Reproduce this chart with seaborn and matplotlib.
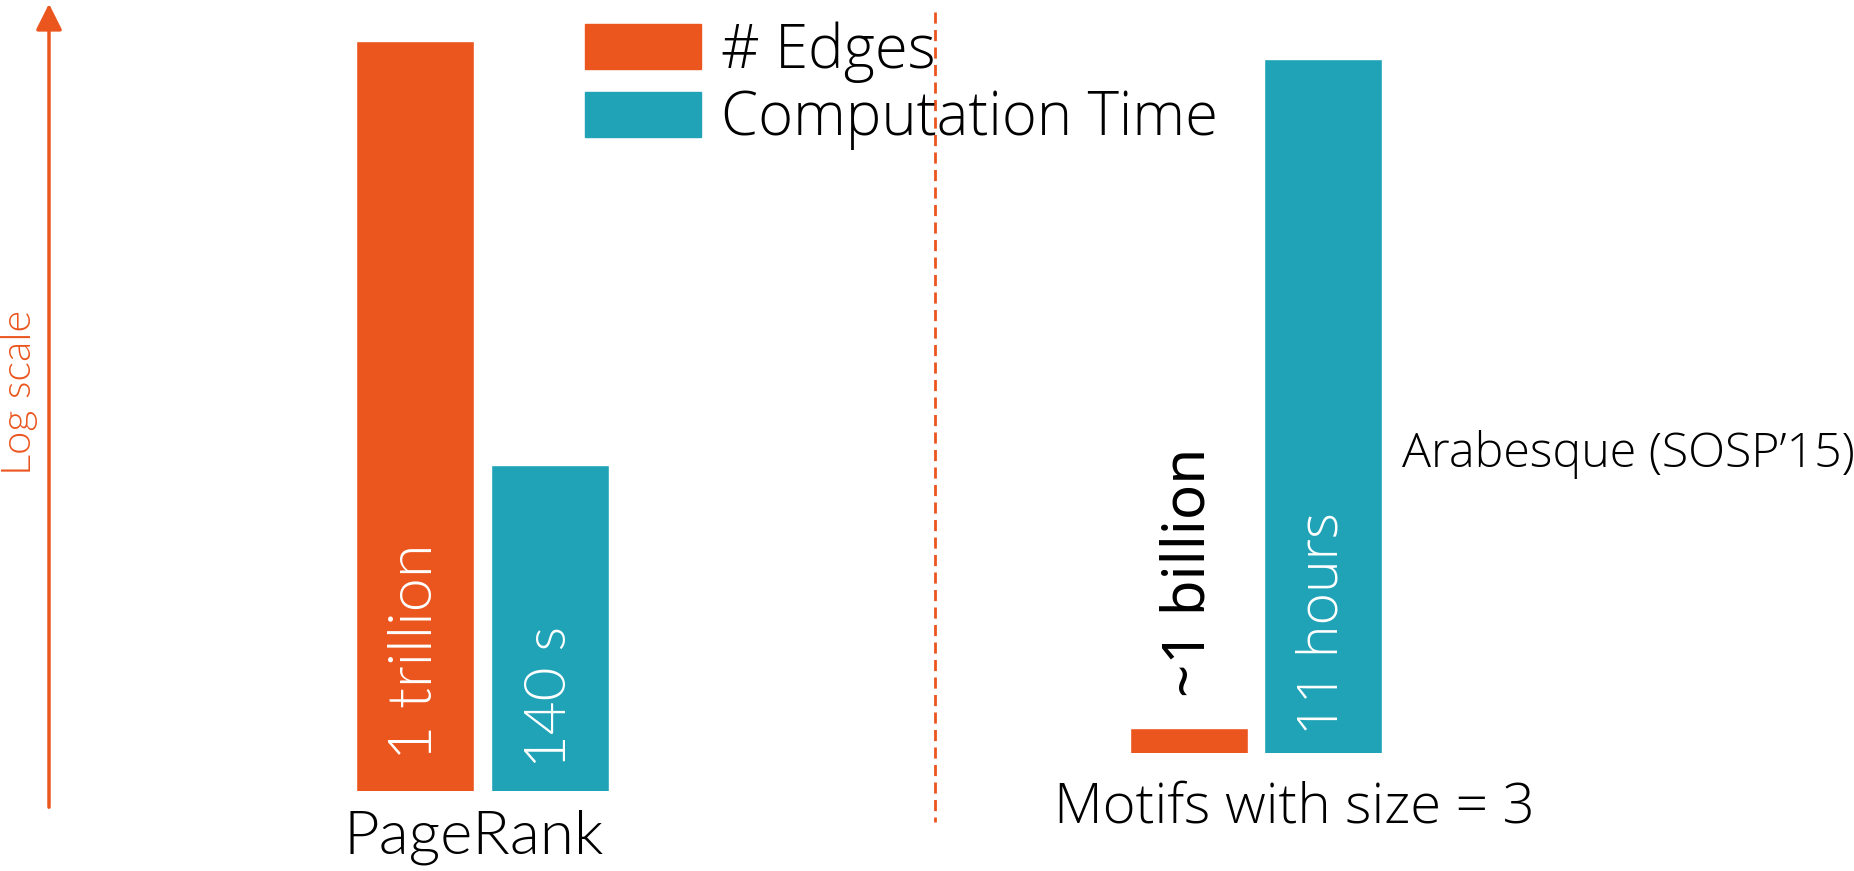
import matplotlib
matplotlib.use("Agg")
import matplotlib.pyplot as plt
from matplotlib.patches import Patch, FancyArrowPatch
import seaborn as sns

# --- data -------------------------------------------------------------
groups = ["PageRank", "Motifs with size = 3"]
metrics = ["# Edges", "Computation Time"]
edges = [1e12, 1e9]                 # number of edges per workload
seconds = [140, 11 * 3600]          # computation time in seconds
edge_labels = ["1 trillion", "~1 billion"]
time_labels = ["140 s", "11 hours"]
note = "Arabesque (SOSP\u201915)"
axis_note = "Log scale"

ORANGE = "#EB551E"
TEAL = "#20A3B7"

sns.set_theme(style="white")
plt.rcParams["font.family"] = ["Lato", "DejaVu Sans"]
plt.rcParams["text.color"] = "black"

W, H = 1854, 871
fig = plt.figure(figsize=(W / 100, H / 100), dpi=100)

# pixels per decade for each log axis, and axis floors (log10)
PX_DEC_EDGES, FLOOR_EDGES = 241.7, 8.8966
PX_DEC_TIME, FLOOR_TIME = 150.1, -0.026

# axes frames in pixels: (left, right, baseline)
frames = [(347.5, 617.5, 791), (1122, 1390, 753)]

thin = dict(family=["Lato"], weight=300)
cond = dict(family=["Open Sans"], weight=300)


def edge_y(px_above_base):
    return 10 ** (FLOOR_EDGES + px_above_base / PX_DEC_EDGES)


def time_y(px_above_base):
    return 10 ** (FLOOR_TIME + px_above_base / PX_DEC_TIME)


for i, (x0, x1, base) in enumerate(frames):
    ax = fig.add_axes([x0 / W, 1 - base / H, (x1 - x0) / W, base / H])
    ax.set_yscale("log")
    sns.barplot(x=[metrics[0]], y=[edges[i]], order=metrics, color=ORANGE,
                width=0.875, saturation=1, ax=ax)
    axt = ax.twinx()
    axt.set_yscale("log")
    sns.barplot(x=[metrics[1]], y=[seconds[i]], order=metrics, color=TEAL,
                width=0.875, saturation=1, ax=axt)
    ax.set_ylim(edge_y(0), edge_y(base))
    axt.set_ylim(time_y(0), time_y(base))
    for a in (ax, axt):
        a.set_xlim(-0.5, 1.5)
        a.set_axis_off()
        a.patch.set_alpha(0)

    # value labels and group names
    if i == 0:
        ax.text(0, edge_y(base - 760), edge_labels[i], rotation=90,
                ha="center", va="bottom", color="white", fontsize=44, **thin)
        axt.text(1, time_y(base - 768), time_labels[i], rotation=90,
                 ha="center", va="bottom", color="white", fontsize=42, **thin)
        fig.text(474 / W, 1 - 853 / H, groups[i], ha="center",
                 va="baseline", fontsize=44.5, color="black", **thin)
    else:
        ax.text(0, edges[i] * 10 ** (31 / PX_DEC_EDGES), edge_labels[i],
                rotation=90, ha="center", va="bottom", color="black",
                fontsize=42, family="Noto Sans")
        axt.text(1, time_y(base - 735), time_labels[i], rotation=90,
                 ha="center", va="bottom", color="white", fontsize=40, **cond)
        fig.text(1294 / W, 1 - 822 / H, groups[i], ha="center",
                 va="baseline", fontsize=40.6, color="black", **cond)

# annotation next to the tall bar
fig.text(1402 / W, 1 - 467 / H, note, ha="left", va="baseline",
         fontsize=34.8, color="black", **cond)

# separator between the two workloads
fig.add_artist(plt.Line2D([935 / W, 935 / W], [1 - 12 / H, 1 - 822 / H],
                          color=ORANGE, lw=2, ls=(0, (4, 2.3))))

# log-scale arrow on the left
fig.add_artist(FancyArrowPatch(
    (49 / W, 1 - 810 / H), (49 / W, 1 - 1 / H), transform=fig.transFigure,
    arrowstyle="-|>,head_length=0.8,head_width=0.4", mutation_scale=20,
    color=ORANGE, lw=2.5))
fig.text(20 / W, 1 - 392 / H, axis_note, rotation=90, ha="center",
         va="center", color=ORANGE, fontsize=30, **thin)

# legend
handles = [Patch(color=ORANGE), Patch(color=TEAL)]
fig.legend(handles, metrics, loc="upper left",
           bbox_to_anchor=(585 / W, 1 - 21 / H), frameon=False,
           prop=dict(size=43, **cond), labelcolor="black", handlelength=1.95,
           handleheight=0.78, handletextpad=0.33, labelspacing=0.1,
           borderpad=0, borderaxespad=0)

fig.savefig("out.png", dpi=100)
